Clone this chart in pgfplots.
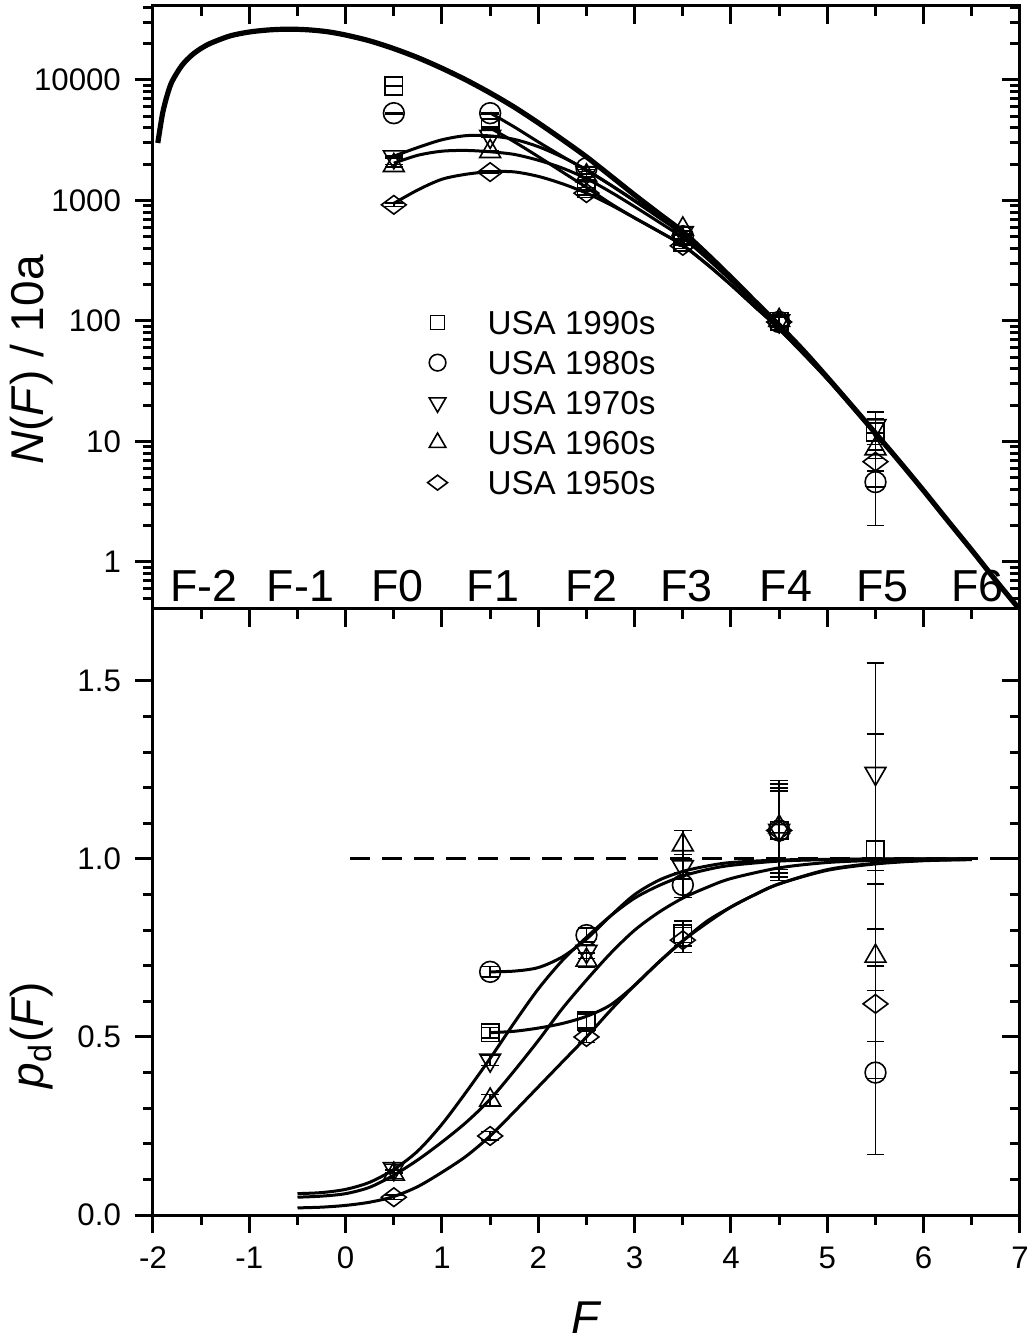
\documentclass[border=0pt]{standalone}
\usepackage{fontspec}
\setmainfont{Liberation Sans}
\usepackage{pgfplots}
\pgfplotsset{compat=1.18}

\pgfplotsset{
  panel/.style={
    width=216.75pt, scale only axis,
    xmin=-2, xmax=7,
    axis line style={line width=0.75pt},
    every tick/.style={black, line width=0.75pt},
    major tick length=4.5pt, minor tick length=2.4pt,
    tick label style={font=\fontsize{7.8}{9}\selectfont, /pgf/number format/assume math mode=true},
    label style={font=\fontsize{11.5}{13}\selectfont},
  },
  cover/.style={panel, tick align=inside, xtick pos=right, ytick pos=right,
    xticklabels={}, yticklabels={}},
  datapts/.style={only marks, black, line width=0.4pt,
    error bars/y dir=both, error bars/y explicit,
    error bars/error bar style={line width=0.4pt, black},
    error bars/error mark options={rotate=90, mark size=2.2pt, line width=0.4pt, black}},
  fitline/.style={black, line width=0.75pt, smooth, no marks, forget plot},
  m90/.style={mark=square, mark size=2.2pt},
  m80/.style={mark=o, mark size=2.6pt},
  m70/.style={mark=triangle, mark size=3pt, every mark/.append style={rotate=180}},
  m60/.style={mark=triangle, mark size=3pt},
  m50/.style={mark=diamond, mark size=3.1pt, every mark/.append style={rotate=90}},
}

\begin{document}
\begin{tikzpicture}

% ---------- lower panel: detection probability ----------
\begin{axis}[panel, name=bot, at={(0,0)}, anchor=south west, height=151.5pt,
  ymin=0, ymax=1.702,
  xtick={-2,-1,...,7}, minor x tick num=1,
  ytick={0,0.5,1,1.5}, minor y tick num=4,
  xtick pos=left, ytick pos=left, tick align=outside,
  yticklabel style={/pgf/number format/.cd, fixed, fixed zerofill, precision=1},
  xlabel={\textit{F}}, xlabel style={at={(axis description cs:0.5,-0.17)}, anchor=center},
  ylabel={\textit{p}\textsubscript{d}(\textit{F})},
  ylabel style={at={(axis description cs:-0.1396,0.297)}, anchor=center},
  clip=true]

\addplot[black, line width=0.75pt, dash pattern=on 5pt off 3pt, forget plot]
  coordinates {(0.05,1) (7,1)};

% fits
\addplot[fitline] coordinates {(1.5,0.512) (1.75,0.516) (2.0,0.525) (2.25,0.538) (2.5,0.558)
  (2.75,0.59) (3.0,0.645) (3.25,0.71) (3.5,0.77) (3.75,0.825) (4.0,0.865) (4.25,0.9)
  (4.5,0.93) (5.0,0.968) (5.5,0.986) (6.0,0.995) (6.5,0.998)};
\addplot[fitline] coordinates {(1.5,0.683) (1.75,0.685) (2.0,0.695) (2.25,0.725) (2.5,0.775)
  (2.75,0.84) (3.0,0.9) (3.25,0.94) (3.5,0.965) (3.75,0.98) (4.0,0.99) (4.5,0.997)
  (5.0,0.999) (5.5,1.0) (6.5,1.0)};
\addplot[fitline] coordinates {(-0.5,0.06) (-0.25,0.063) (0,0.072) (0.25,0.092) (0.5,0.128)
  (0.75,0.18) (1.0,0.255) (1.25,0.345) (1.5,0.44) (1.75,0.54) (2.0,0.635) (2.25,0.715)
  (2.5,0.78) (2.75,0.84) (3.0,0.89) (3.25,0.925) (3.5,0.952) (3.75,0.97) (4.0,0.982)
  (4.5,0.994) (5.0,0.998) (5.5,0.9995) (6.0,1.0) (6.5,1.0)};
\addplot[fitline] coordinates {(-0.5,0.05) (-0.25,0.053) (0,0.06) (0.25,0.078) (0.5,0.112)
  (0.75,0.155) (1.0,0.205) (1.25,0.26) (1.5,0.325) (1.75,0.405) (2.0,0.49) (2.25,0.58)
  (2.5,0.66) (2.75,0.735) (3.0,0.8) (3.25,0.85) (3.5,0.89) (3.75,0.92) (4.0,0.945)
  (4.5,0.975) (5.0,0.99) (5.5,0.996) (6.0,0.999) (6.5,1.0)};
\addplot[fitline] coordinates {(-0.5,0.02) (-0.25,0.022) (0,0.027) (0.25,0.036) (0.5,0.052)
  (0.75,0.08) (1.0,0.12) (1.25,0.165) (1.5,0.222) (1.75,0.29) (2.0,0.36) (2.25,0.43)
  (2.5,0.5) (2.75,0.575) (3.0,0.645) (3.25,0.71) (3.5,0.77) (3.75,0.82) (4.0,0.865)
  (4.25,0.9) (4.5,0.93) (5.0,0.97) (5.5,0.988) (6.0,0.996) (6.5,0.999)};

% data
\addplot[datapts, m90, forget plot] table[x=x, y=y, y error=e] {
x y e
1.5 0.512 0.015
2.5 0.545 0.02
3.5 0.79 0.035
4.5 1.08 0.12
5.5 1.025 0.326
};
\addplot[datapts, m80, forget plot] table[x=x, y=y, y error=e] {
x y e
1.5 0.683 0.015
2.5 0.786 0.02
3.5 0.927 0.035
4.5 1.08 0.13
5.5 0.40 0.23
};
\addplot[datapts, m70, forget plot] table[x=x, y=y, y error=e] {
x y e
0.5 0.13 0.012
1.5 0.435 0.015
2.5 0.74 0.02
3.5 0.978 0.035
4.5 1.08 0.14
5.5 1.24 0.31
};
\addplot[datapts, m60, forget plot] table[x=x, y=y, y error=e] {
x y e
0.5 0.115 0.012
1.5 0.323 0.015
2.5 0.716 0.02
3.5 1.04 0.04
4.5 1.09 0.12
5.5 0.727 0.24
};
\addplot[datapts, m50, forget plot] table[x=x, y=y, y error=e] {
x y e
0.5 0.05 0.006
1.5 0.222 0.012
2.5 0.50 0.015
3.5 0.772 0.035
4.5 1.08 0.11
5.5 0.593 0.21
};
\end{axis}
\begin{axis}[cover, at={(0,0)}, anchor=south west, height=151.5pt,
  ymin=0, ymax=1.702, xtick={-2,-1,...,7}, minor x tick num=1,
  ytick={0,0.5,1,1.5}, minor y tick num=4]
\end{axis}

% ---------- upper panel: counts per decade ----------
\begin{axis}[panel, name=top, at={(bot.north west)}, anchor=south west, height=150.75pt,
  ymode=log, ymin=0.407, ymax=41100,
  xtick=\empty, ytick pos=left, tick align=outside,
  ytick={1,10,100,1000,10000}, yticklabels={1,10,100,1000,10000},
  minor ytick={0.5,0.6,0.7,0.8,0.9,2,3,4,5,6,7,8,9,20,30,40,50,60,70,80,90,
    200,300,400,500,600,700,800,900,2000,3000,4000,5000,6000,7000,8000,9000,20000,30000,40000},
  ylabel={\textit{N}(\textit{F}) / 10a},
  ylabel style={at={(axis description cs:-0.1396,0.413)}, anchor=center},
  legend cell align=left,
  legend style={at={(axis description cs:0.295,0.516)}, anchor=north west, draw=none, fill=none,
    font=\fontsize{8.3}{9}\selectfont, row sep=2pt,
    nodes={inner sep=1pt, text height=6pt, text depth=0pt}},
  legend image code/.code={\draw[#1, every mark/.append style={scale=0.8}] plot coordinates {(0pt,0pt)};
    \path[draw=none] (-4pt,0pt) (11.5pt,0pt);},
  clip=true]

\addplot[datapts, m90] table[x=x, y=y, y error=e] {
x y e
0.5 8900 95
1.5 4000 63
2.5 1250 35
3.5 450 21
4.5 99 10
5.5 12 3.5
};
\addlegendentry{USA 1990s}
\addplot[datapts, m80] table[x=x, y=y, y error=e] {
x y e
0.5 5300 73
1.5 5300 73
2.5 1850 43
3.5 505 22
4.5 98 10
5.5 4.6 2.6
};
\addlegendentry{USA 1980s}
\addplot[datapts, m70] table[x=x, y=y, y error=e] {
x y e
0.5 2300 48
1.5 3400 58
2.5 1700 41
3.5 540 23
4.5 100 10
5.5 13.5 4.1
};
\addlegendentry{USA 1970s}
\addplot[datapts, m60] table[x=x, y=y, y error=e] {
x y e
0.5 1950 44
1.5 2550 50
2.5 1600 40
3.5 580 24
4.5 101 10
5.5 8.7 3.0
};
\addlegendentry{USA 1960s}
\addplot[datapts, m50] table[x=x, y=y, y error=e] {
x y e
0.5 920 30
1.5 1720 41
2.5 1150 34
3.5 420 20
4.5 98 10
5.5 6.8 2.6
};
\addlegendentry{USA 1950s}

% underlying distribution
\addplot[black, line width=1.3pt, smooth, no marks, forget plot] coordinates {
  (-1.95,3000) (-1.9,5300) (-1.85,7600) (-1.8,9800) (-1.7,13200) (-1.6,16000)
  (-1.5,18300) (-1.4,20200) (-1.2,23200) (-1.0,25000) (-0.8,26000) (-0.6,26400)
  (-0.4,26100) (-0.2,25200) (0,23600) (0.25,21100) (0.5,18200) (0.75,15300)
  (1.0,12500) (1.25,10000) (1.5,7800) (1.75,5950) (2.0,4400) (2.25,3200) (2.5,2300)
  (2.75,1600) (3.0,1110) (3.25,780) (3.5,550) (3.75,360) (4.0,230) (4.25,145)
  (4.5,92) (4.75,57) (5.0,34) (5.25,20) (5.5,11.7) (5.75,6.8) (6.0,3.9) (6.25,2.2)
  (6.5,1.25) (6.75,0.7) (7.0,0.4)};

% observed fits
\addplot[fitline] coordinates {(1.5,3994) (1.75,3070) (2.0,2310) (2.25,1722) (2.5,1283)
  (2.75,944) (3.0,716) (3.25,554) (3.5,424) (3.75,297) (4.0,199) (4.25,130.5) (4.5,85.6)
  (5.0,32.9) (5.5,11.54) (6.0,3.88) (6.5,1.25)};
\addplot[fitline] coordinates {(1.5,5327) (1.75,4076) (2.0,3058) (2.25,2320) (2.5,1783)
  (2.75,1344) (3.0,999) (3.25,733) (3.5,531) (3.75,353) (4.0,228) (4.25,144) (4.5,91.7)
  (5.0,34) (5.5,11.7) (6.0,3.9) (6.5,1.25)};
\addplot[fitline] coordinates {(0.5,2330) (0.75,2754) (1.0,3188) (1.25,3450) (1.5,3432)
  (1.75,3213) (2.0,2794) (2.25,2288) (2.5,1794) (2.75,1344) (3.0,988) (3.25,722)
  (3.5,524) (3.75,349) (4.0,226) (4.25,143) (4.5,91.4) (5.0,33.9) (5.5,11.7) (6.0,3.9) (6.5,1.25)};
\addplot[fitline] coordinates {(0.5,2038) (0.75,2372) (1.0,2563) (1.25,2600) (1.5,2535)
  (1.75,2410) (2.0,2156) (2.25,1856) (2.5,1518) (2.75,1176) (3.0,888) (3.25,663)
  (3.5,490) (3.75,331) (4.0,217) (4.25,139) (4.5,89.7) (5.0,33.7) (5.5,11.65) (6.0,3.9) (6.5,1.25)};
\addplot[fitline] coordinates {(0.5,946) (0.75,1224) (1.0,1500) (1.25,1650) (1.5,1732)
  (1.75,1726) (2.0,1584) (2.25,1376) (2.5,1150) (2.75,920) (3.0,716) (3.25,554)
  (3.5,424) (3.75,295) (4.0,199) (4.25,130.5) (4.5,85.6) (5.0,33) (5.5,11.56) (6.0,3.88) (6.5,1.25)};

\node[font=\fontsize{11.2}{13}\selectfont] at (axis cs:-1.47,0.632) {F-2};
\node[font=\fontsize{11.2}{13}\selectfont] at (axis cs:-0.47,0.632) {F-1};
\node[font=\fontsize{11.2}{13}\selectfont] at (axis cs:0.54,0.632) {F0};
\node[font=\fontsize{11.2}{13}\selectfont] at (axis cs:1.53,0.632) {F1};
\node[font=\fontsize{11.2}{13}\selectfont] at (axis cs:2.55,0.632) {F2};
\node[font=\fontsize{11.2}{13}\selectfont] at (axis cs:3.54,0.632) {F3};
\node[font=\fontsize{11.2}{13}\selectfont] at (axis cs:4.57,0.632) {F4};
\node[font=\fontsize{11.2}{13}\selectfont] at (axis cs:5.57,0.632) {F5};
\node[font=\fontsize{11.2}{13}\selectfont] at (axis cs:6.56,0.632) {F6};
\end{axis}
\begin{axis}[cover, at={(bot.north west)}, anchor=south west, height=150.75pt,
  ymode=log, ymin=0.407, ymax=41100,
  xtick={-2,-1,...,7}, minor x tick num=1,
  ytick={1,10,100,1000,10000},
  minor ytick={0.5,0.6,0.7,0.8,0.9,2,3,4,5,6,7,8,9,20,30,40,50,60,70,80,90,
    200,300,400,500,600,700,800,900,2000,3000,4000,5000,6000,7000,8000,9000,20000,30000,40000}]
\end{axis}

\pgfresetboundingbox
\path[use as bounding box] (-38.25pt,-31.25pt) rectangle (219.75pt,303.75pt);
\end{tikzpicture}
\end{document}
